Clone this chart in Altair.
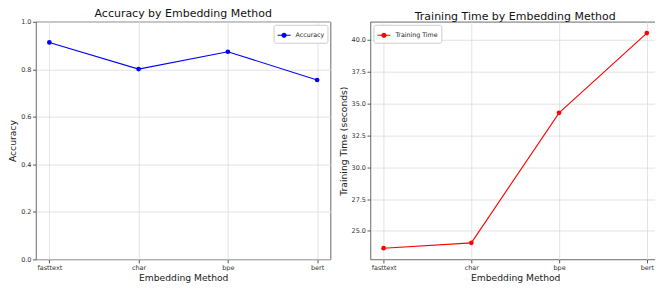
import altair as alt
import pandas as pd

methods = ["fasttext", "char", "bpe", "bert"]
accuracy = [0.913, 0.801, 0.874, 0.755]
train_time = [23.64, 24.06, 34.27, 40.53]

acc_ticks = [0.0, 0.2, 0.4, 0.6, 0.8, 1.0]
time_ticks = [25.0, 27.5, 30.0, 32.5, 35.0, 37.5, 40.0]

FONT = "DejaVu Sans"
LEGEND_PATH = "M-1,0L1,0M0.32,0A0.32,0.32,0,1,1,-0.32,0A0.32,0.32,0,1,1,0.32,0Z"


def panel(values, series, color, title, ytitle, domain, ticks, orient, width):
    df = pd.DataFrame({"method": methods, "value": values, "series": series})
    x = alt.X("method:N", sort=methods,
              scale=alt.Scale(type="point", padding=0.15),
              axis=alt.Axis(title="Embedding Method", labelAngle=0))
    y = alt.Y("value:Q",
              scale=alt.Scale(domain=domain, nice=False, zero=False),
              axis=alt.Axis(title=ytitle, values=ticks, format=".1f"))
    c = alt.Color("series:N",
                  scale=alt.Scale(domain=[series], range=[color]),
                  legend=alt.Legend(title=None, orient=orient, offset=3,
                                    symbolType=LEGEND_PATH, symbolSize=169,
                                    symbolStrokeWidth=1.1,
                                    symbolFillColor=color, symbolStrokeColor=color,
                                    labelFont=FONT, labelFontSize=6.3,
                                    labelColor="#222222",
                                    labelOffset=4, padding=3,
                                    strokeColor="#cccccc", fillColor="white",
                                    cornerRadius=2))
    line = alt.Chart(df).mark_line(strokeWidth=1.1).encode(x=x, y=y, color=c)
    pts = alt.Chart(df).mark_point(filled=True, size=22, opacity=1).encode(x=x, y=y, color=c)
    return (line + pts).properties(
        width=width, height=238,
        title=alt.TitleParams(title, font=FONT, fontSize=11, fontWeight="normal",
                              color="#111111", offset=0))


left = panel(accuracy, "Accuracy", "#0000ff", "Accuracy by Embedding Method",
             "Accuracy", [0.0, 1.0], acc_ticks, "top-right", 295)
right = panel(train_time, "Training Time", "#ff0000", "Training Time by Embedding Method",
              "Training Time (seconds)", [22.76, 41.42], time_ticks, "top-left", 290)

chart = alt.hconcat(left, right, spacing=7).resolve_scale(
    color="independent"
).properties(
    padding={"left": 0, "top": -1.4, "right": -6, "bottom": -2},
    background="white",
).configure_axis(
    labelFont=FONT, labelFontSize=6.5, labelColor="#333333", labelPadding=1.5,
    titleFont=FONT, titleFontSize=9.2, titleFontWeight="normal", titleColor="#222222",
    titlePadding=3,
    tickSize=3.5, tickColor="#333333", tickWidth=0.8,
    grid=True, gridColor="#dcdcdc", gridWidth=0.8,
    domain=False,
).configure_view(
    stroke="#444444", strokeWidth=0.8,
)

chart.save("out.html", embed_options={"renderer": "svg", "actions": False})
